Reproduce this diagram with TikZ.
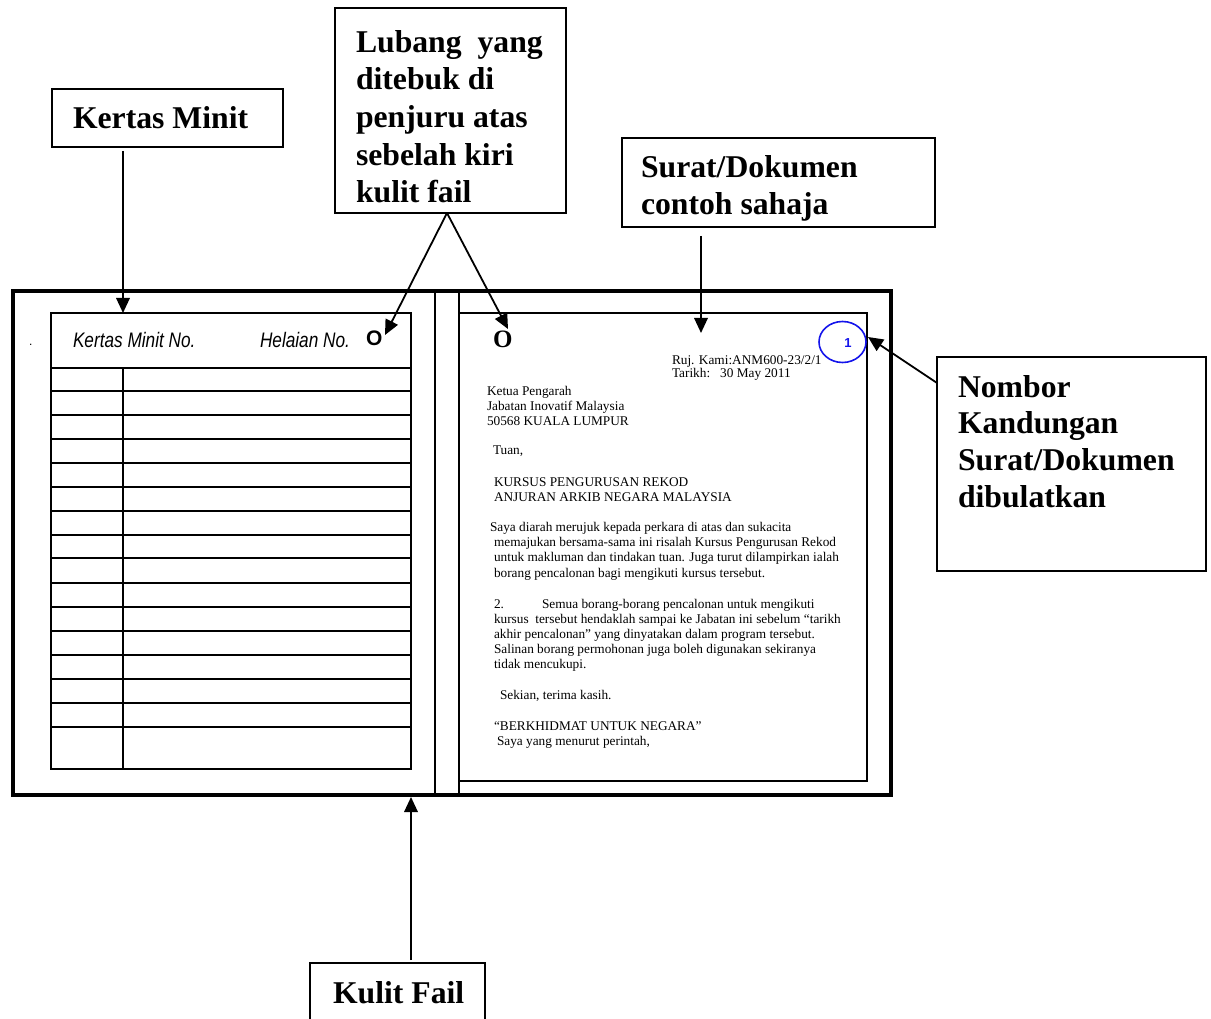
\documentclass[tikz,border=0pt]{standalone}
\usepackage{fontspec}
\setmainfont{Liberation Serif}
\setsansfont{Liberation Sans}
\newfontfamily\minfont[FakeStretch=0.82]{Liberation Sans}
\usetikzlibrary{arrows.meta,calc,shapes.geometric}
\definecolor{numblue}{RGB}{20,20,235}
\begin{document}
\begin{tikzpicture}[x=1pt,y=-1pt,
  rect/.style={draw, anchor=north west, inner sep=0pt, outer sep=0pt},
  boxx/.style={rect, line width=1.8pt},
  lbl/.style={font=\fontsize{31.7}{37}\selectfont\bfseries, anchor=base west, inner sep=0pt, outer sep=0pt},
  ltr/.style={font=\fontsize{13.3}{15}\selectfont, anchor=base west, inner sep=0pt, outer sep=0pt},
  hdr/.style={font=\fontsize{21}{21}\minfont\itshape, anchor=base west, inner sep=0pt, outer sep=0pt},
  tbl/.style={line width=2pt},
  arr/.style={line width=1.8pt, -{Triangle[length=15pt,width=13.5pt]}}
]
\path[use as bounding box, fill=white] (0,0) rectangle (1211,1019);
\clip (0,0) rectangle (1211,1019);

% file cover
\node[rect, line width=4pt, minimum width=878pt, minimum height=504pt] (frame) at (13,291) {};
\draw[tbl] (435,291) -- (435,795);
\draw[tbl] (459,291) -- (459,795);

% minute sheet
\node[rect, line width=2pt, minimum width=360pt, minimum height=456pt] (minute) at (51,313) {};
\coordinate (col) at (123,368);
\draw[tbl] (51,368) -- (411,368);
\foreach \yy in {391,415,439,463,487,511,535,558,583,607,631,655,679,703,727}
  \draw[tbl] (51,\yy) -- (411,\yy);
\draw[tbl] (col) -- (123,769);
\node[hdr] (kmno) at (73,348) {Kertas Minit No.};
\node[hdr] (helno) at (260,348) {Helaian No.};
\node[font=\fontsize{21}{21}\sffamily\bfseries, anchor=base west, inner sep=0pt] (holeA) at (366,345) {O};
\node[font=\fontsize{12}{12}\sffamily, anchor=base west, inner sep=0pt] (dot) at (29,345) {.};

% letter
\node[rect, line width=2pt, minimum width=408pt, minimum height=468pt] (letter) at (459,313) {};
\node[font=\fontsize{25}{25}\selectfont\bfseries, anchor=base west, inner sep=0pt] (holeB) at (493,347) {O};
\node[ellipse, draw=numblue, line width=1.6pt, minimum width=47pt, minimum height=41pt, inner sep=0pt] (circ) at (842.5,342) {};
\node[font=\fontsize{13}{13}\sffamily\bfseries, text=numblue, anchor=base, inner sep=0pt] (num) at (848,347) {1};

\node[ltr] (l1) at (672,364) {Ruj. Kami:ANM600-23/2/1};
\node[ltr] (l2) at (672,377) {Tarikh:\hspace{10pt}30 May 2011};
\node[ltr] (l3) at (487,395) {Ketua Pengarah};
\node[ltr] (l4) at (487,410) {Jabatan Inovatif Malaysia};
\node[ltr] (l5) at (487,425) {50568 KUALA LUMPUR};
\node[ltr] (l6) at (493,454) {Tuan,};
\node[ltr] (l7) at (494,486) {KURSUS PENGURUSAN REKOD};
\node[ltr] (l8) at (494,501) {ANJURAN ARKIB NEGARA MALAYSIA};
\node[ltr] (l9) at (490,531) {Saya diarah merujuk kepada perkara di atas dan sukacita};
\node[ltr] (l10) at (494,546) {memajukan bersama-sama ini risalah Kursus Pengurusan Rekod};
\node[ltr] (l11) at (494,561) {untuk makluman dan tindakan tuan. Juga turut dilampirkan ialah};
\node[ltr] (l12) at (494,577) {borang pencalonan bagi mengikuti kursus tersebut.};
\node[ltr] (l13) at (494,608) {\makebox[48pt][l]{2.}Semua borang-borang pencalonan untuk mengikuti};
\node[ltr] (l14) at (494,623) {kursus\ \ tersebut hendaklah sampai ke Jabatan ini sebelum “tarikh};
\node[ltr] (l15) at (494,638) {akhir pencalonan” yang dinyatakan dalam program tersebut.};
\node[ltr] (l16) at (494,653) {Salinan borang permohonan juga boleh digunakan sekiranya};
\node[ltr] (l17) at (494,668) {tidak mencukupi.};
\node[ltr] (l18) at (500,699) {Sekian, terima kasih.};
\node[ltr] (l19) at (494,730) {“BERKHIDMAT UNTUK NEGARA”};
\node[ltr] (l20) at (497,745) {Saya yang menurut perintah,};

% label boxes
\node[boxx, minimum width=231pt, minimum height=58pt] (kmbox) at (52,89) {};
\node[lbl] (kmtxt) at (73,129) {Kertas Minit};

\node[boxx, minimum width=231pt, minimum height=205pt] (lubox) at (335,8) {};
\node[lbl] (lu1) at (356,53) {Lubang\ \ yang};
\node[lbl] (lu2) at (356,90) {ditebuk di};
\node[lbl] (lu3) at (356,128) {penjuru atas};
\node[lbl] (lu4) at (356,166) {sebelah kiri};
\node[lbl] (lu5) at (356,203) {kulit fail};

\node[boxx, minimum width=313pt, minimum height=89pt] (sdbox) at (622,138) {};
\node[lbl] (sd1) at (641,178) {Surat/Dokumen};
\node[lbl] (sd2) at (641,215) {contoh sahaja};

\node[boxx, minimum width=269pt, minimum height=214pt] (nbbox) at (937,357) {};
\node[lbl] (nb1) at (958,397) {Nombor};
\node[lbl] (nb2) at (958,433) {Kandungan};
\node[lbl] (nb3) at (958,470) {Surat/Dokumen};
\node[lbl] (nb4) at (958,507) {dibulatkan};

\node[boxx, minimum width=175pt, minimum height=90pt] (kfbox) at (310,963) {};
\node[lbl] (kftxt) at (333,1003) {Kulit Fail};

% connectors
\coordinate (apex) at ($(lubox.south)+(-3.5,0)$);
\coordinate (tipA) at (385,335);
\coordinate (tipB) at (508,329);
\coordinate (sdS) at ($(sdbox.south west)+(79,9)$);
\coordinate (sdE) at (701,333);
\coordinate (nbS) at ($(nbbox.north west)+(0,26)$);
\coordinate (nbE) at (868,337);

\draw[arr] ($(kmbox.south -| col)+(0,4)$) -- (minute.north -| col);
\draw[arr] (apex) -- (tipA);
\draw[arr] (apex) -- (tipB);
\draw[arr] (sdS) -- (sdE);
\draw[arr] (nbS) -- (nbE);
\draw[arr] ($(kfbox.north -| minute.east)+(0,-3)$) -- ($(frame.south -| minute.east)+(0,2)$);
\end{tikzpicture}
\end{document}
